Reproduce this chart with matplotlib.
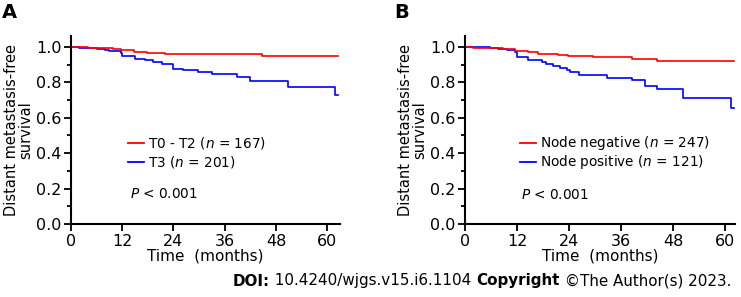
import matplotlib
matplotlib.use('Agg')
import matplotlib.pyplot as plt
from matplotlib.ticker import MultipleLocator, FormatStrFormatter

# panel A: T stage
a_red_t = [0, 3.9, 9.8, 11.7, 14.8, 17.7, 21.9, 44.8, 62.6]
a_red_s = [1.0, 0.995, 0.989, 0.981, 0.972, 0.965, 0.959, 0.949, 0.949]
a_blue_t = [0, 1.8, 6.0, 8.0, 8.8, 11.7, 12.0, 15.0, 17.3, 19.3, 21.2, 23.8, 26.3,
            29.8, 33.0, 38.8, 42.0, 50.9, 61.9, 62.6]
a_blue_s = [1.0, 0.995, 0.99, 0.984, 0.975, 0.968, 0.947, 0.934, 0.925, 0.915, 0.906,
            0.878, 0.868, 0.859, 0.85, 0.831, 0.806, 0.772, 0.731, 0.731]

# panel B: node status
b_red_t = [0, 1.9, 3.8, 8.8, 11.5, 14.5, 16.9, 21.5, 23.8, 29.6, 38.6, 44.4, 62.1]
b_red_s = [1.0, 0.996, 0.993, 0.986, 0.978, 0.970, 0.962, 0.956, 0.948, 0.941, 0.931,
           0.920, 0.920]
b_blue_t = [0, 5.8, 7.7, 9.6, 11.5, 11.9, 14.6, 17.7, 18.8, 20.4, 21.9, 23.5, 24.2,
            26.2, 32.7, 38.5, 41.5, 44.4, 50.3, 61.4, 62.1]
b_blue_s = [1.0, 0.995, 0.99, 0.981, 0.97, 0.943, 0.928, 0.915, 0.906, 0.891, 0.881,
            0.872, 0.86, 0.84, 0.825, 0.812, 0.78, 0.761, 0.712, 0.655, 0.655]

labels_a = ['T0 - T2 ($n$ = 167)', 'T3 ($n$ = 201)']
labels_b = ['Node negative ($n$ = 247)', 'Node positive ($n$ = 121)']
xticks = [0, 12, 24, 36, 48, 60]
yticks = [0.0, 0.2, 0.4, 0.6, 0.8, 1.0]

plt.rcParams['font.family'] = 'DejaVu Sans'
plt.rcParams['mathtext.fontset'] = 'dejavusans'

fig = plt.figure(figsize=(7.41, 2.97), dpi=100)
W, H = 741, 297


def panel(left_px, right_px, xmax, red, blue, labels, letter, letter_x, leg_x, p_xy):
    ax = fig.add_axes([left_px / W, 1 - 224 / H, (right_px - left_px) / W, (224 - 36) / H])
    ax.step(blue[0], blue[1], where='post', color='#0000ff', lw=1.2)
    ax.step(red[0], red[1], where='post', color='#ff0000', lw=1.2)
    ax.set_xlim(0, xmax)
    ax.set_ylim(0, 1.062)
    ax.set_xticks(xticks)
    ax.set_yticks(yticks)
    ax.yaxis.set_minor_locator(MultipleLocator(0.1))
    ax.yaxis.set_major_formatter(FormatStrFormatter('%.1f'))
    for s in ['top', 'right']:
        ax.spines[s].set_visible(False)
    for s in ['left', 'bottom']:
        ax.spines[s].set_linewidth(1.5)
    ax.tick_params(which='major', length=5, width=1.3, labelsize=11.5, pad=2)
    ax.tick_params(which='minor', length=3, width=1.3)
    ax.set_xlabel('Time  (months)', fontsize=11, labelpad=0)
    ax.set_ylabel('Distant metastasis-free\nsurvival', fontsize=10.5, labelpad=2,
                  linespacing=0.9)
    # legend drawn by hand
    for i, (lab, col) in enumerate(zip(labels, ['#ff0000', '#0000ff'])):
        yy = 1 - (143 + 19 * i) / H
        fig.add_artist(plt.Line2D([leg_x / W, (leg_x + 16) / W], [yy, yy], color=col, lw=1.3))
        fig.text((leg_x + 20) / W, yy, lab, fontsize=9.8, va='center', ha='left')
    fig.text(p_xy[0] / W, 1 - p_xy[1] / H, '$P$ < 0.001', fontsize=9.8, va='center')
    fig.text(letter_x / W, 1 - 13 / H, letter, fontsize=14, fontweight='bold', va='center')
    return ax


panel(71, 340, 63.0, (a_red_t, a_red_s), (a_blue_t, a_blue_s), labels_a, 'A', 2,
      128, (130, 194))
panel(465, 735, 62.3, (b_red_t, b_red_s), (b_blue_t, b_blue_s), labels_b, 'B', 394,
      520, (521, 195))

# footer with mixed bold text
pieces = [('DOI:', 'bold'), (' 10.4240/wjgs.v15.i6.1104 ', 'normal'),
          ('Copyright', 'bold'), (' \u00a9The Author(s) 2023.', 'normal')]
renderer = fig.canvas.get_renderer()
x = 233
for txt, wt in pieces:
    t = fig.text(x / W, 1 - 281 / H, txt, fontsize=10.9, fontweight=wt, va='center')
    bb = t.get_window_extent(renderer)
    x += bb.width

fig.savefig('out.png', dpi=100)
